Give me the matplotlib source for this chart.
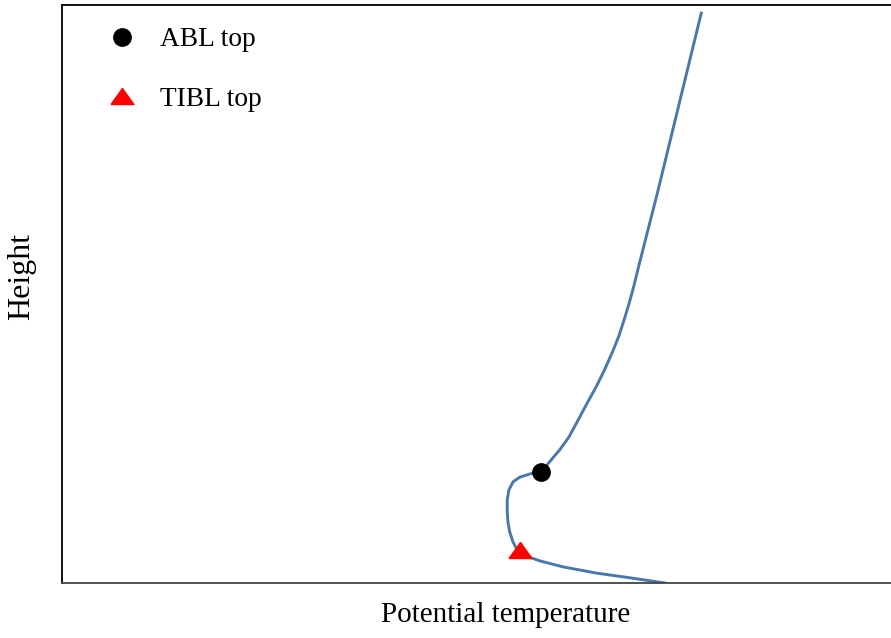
import matplotlib
matplotlib.use('agg')
import matplotlib.pyplot as plt

plt.rcParams['font.family'] = ['Liberation Serif', 'DejaVu Serif']

# profile (arbitrary units)
theta = [7.71, 7.455, 7.19, 6.944, 6.894, 6.840, 6.779, 6.713, 6.634, 6.544,
         6.441, 6.333, 6.225, 6.116, 6.001, 5.929, 5.78, 5.65, 5.52, 5.44,
         5.39, 5.37, 5.37, 5.38, 5.40, 5.44, 5.49, 5.59, 5.77, 6.04, 6.45,
         6.85, 7.27]
height = [9.86, 8.36, 6.80, 5.415, 5.12, 4.84, 4.55, 4.26, 3.98, 3.69,
          3.39, 3.11, 2.82, 2.53, 2.30, 2.18, 1.92, 1.89, 1.83, 1.75,
          1.61, 1.44, 1.23, 1.04, 0.88, 0.71, 0.57, 0.47, 0.38, 0.28, 0.17,
          0.09, 0.00]

abl_theta, abl_height = [5.78], [1.92]
tibl_theta, tibl_height = [5.52], [0.57]

LINE_COLOR = '#4a78aa'
TRI = [(-1, -0.7), (1, -0.7), (0, 0.7), (-1, -0.7)]


def make_plot(name):
    fig = plt.figure(figsize=(8.91, 6.38), dpi=100)
    ax = fig.add_axes([62/891, 55/638, 888/891, 578/638])
    ax.plot(theta, height, color=LINE_COLOR, linewidth=2.1, zorder=2,
            solid_joinstyle='round')
    ax.plot(abl_theta, abl_height, linestyle='none', marker='o',
            markersize=12.5, color='black', label='ABL top', zorder=3)
    ax.plot(tibl_theta, tibl_height, linestyle='none', marker=TRI,
            markersize=16.5, color='red', label='TIBL top', zorder=3)

    # Limits
    ax.set_xlim(0, 10.71)
    ax.set_ylim(0, 10)
    ax.set_xticks([])
    ax.set_yticks([])
    ax.spines['right'].set_visible(False)
    for s in ['top', 'left']:
        ax.spines[s].set_linewidth(1.3)
        ax.spines[s].set_color('black')
    ax.spines['bottom'].set_linewidth(1.3)
    ax.spines['bottom'].set_color('#444444')

    ax.legend(loc='upper left', bbox_to_anchor=(0.0367, 0.981), frameon=False,
              fontsize=19.7, labelspacing=1.27, handletextpad=0.8,
              handlelength=1.2, borderaxespad=0.0)

    # Labels
    ax.set_xlabel('Potential temperature', fontsize=21)
    ax.set_ylabel('Height', fontsize=23)
    ax.xaxis.set_label_coords(0.5, -0.033)
    ax.yaxis.set_label_coords(-0.029, 0.530)

    # Save
    fig.savefig(name, dpi=100)


make_plot('out.png')
